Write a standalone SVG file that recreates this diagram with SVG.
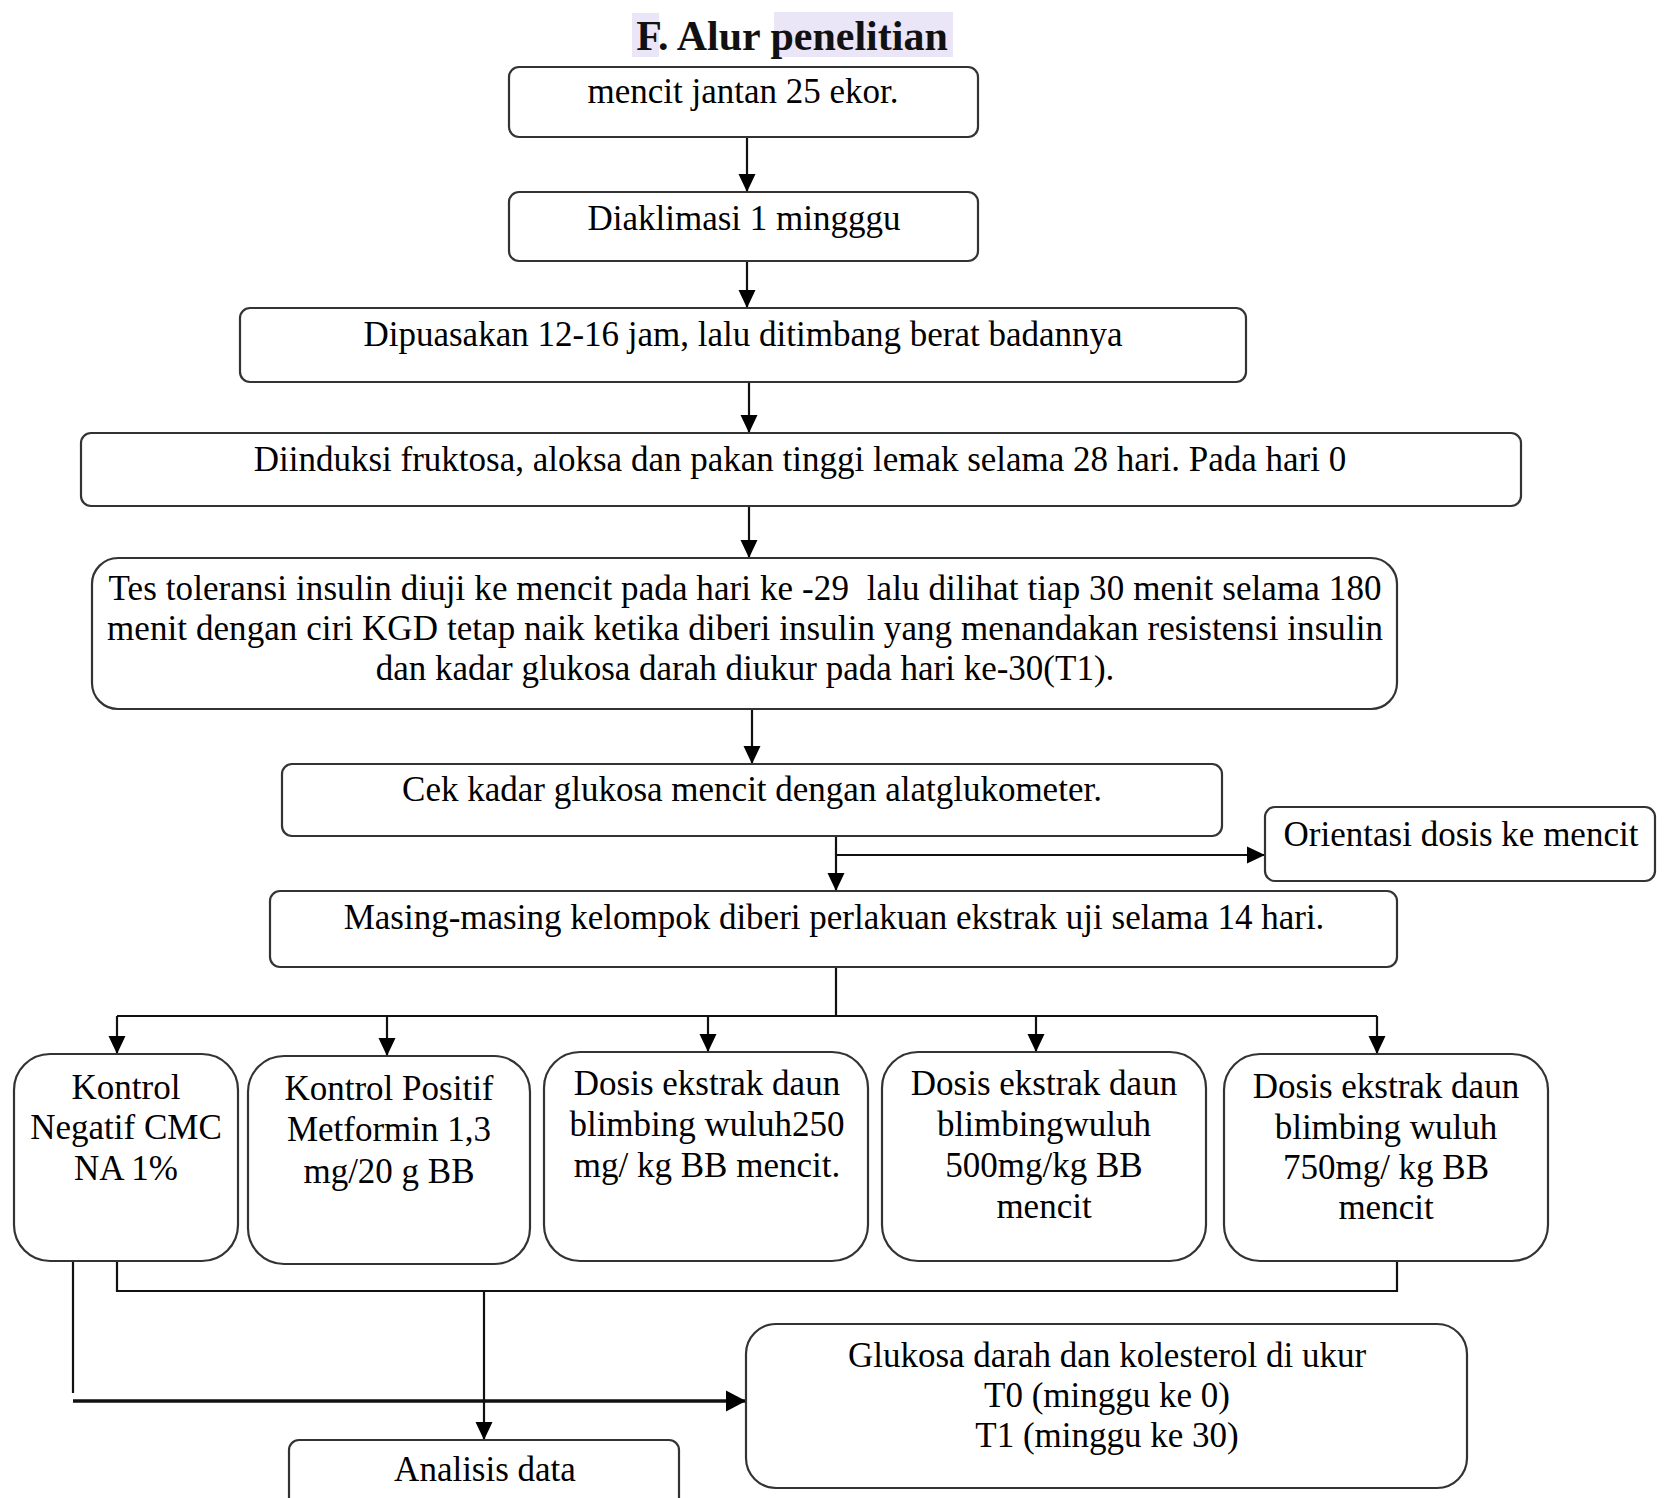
<svg xmlns="http://www.w3.org/2000/svg" width="1664" height="1498" viewBox="0 0 1664 1498">
<defs>
<marker id="ah" markerUnits="userSpaceOnUse" markerWidth="19" markerHeight="18" refX="18" refY="9" orient="auto">
<path d="M0,0.5 L18,9 L0,17.5 z" fill="#000"/>
</marker>
<marker id="ah2" markerUnits="userSpaceOnUse" markerWidth="21" markerHeight="22" refX="20" refY="11" orient="auto">
<path d="M0,0.5 L20,11 L0,21.5 z" fill="#000"/>
</marker>
<style>
.box{fill:#fff;stroke:#333;stroke-width:2.2}
.t{font-family:"Liberation Serif","Times New Roman",serif;font-size:35px;fill:#000;text-anchor:middle}
.con{fill:none;stroke:#111;stroke-width:2.2}
.arr{marker-end:url(#ah)}
</style>
</defs>
<rect width="1664" height="1498" fill="#fff"/>
<g id="title">
<rect x="632" y="13" width="27" height="44" fill="#ebe6f7"/>
<rect x="774" y="12" width="179" height="45" fill="#ebe6f7"/>
<text x="792" y="50" style="font-family:'Liberation Serif','Times New Roman',serif;font-size:42px;font-weight:bold;text-anchor:middle" fill="#111">F. Alur penelitian</text>
</g>
<g id="connectors">
<path class="con arr" d="M747,137 V192"/>
<path class="con arr" d="M747,261 V308"/>
<path class="con arr" d="M749,382 V433"/>
<path class="con arr" d="M749,506 V558"/>
<path class="con arr" d="M752,709 V764"/>
<path class="con arr" d="M836,836 V891"/>
<path class="con arr" d="M836,855 H1265"/>
<path class="con" d="M836,967 V1016 M117,1016 H1377"/>
<path class="con arr" d="M117,1016 V1054"/>
<path class="con arr" d="M387,1016 V1056"/>
<path class="con arr" d="M708,1016 V1052"/>
<path class="con arr" d="M1036,1016 V1052"/>
<path class="con arr" d="M1377,1016 V1054"/>
<path class="con" d="M73,1261 V1393"/>
<path class="con" style="stroke-width:3.4;marker-end:url(#ah2)" d="M73,1401 H746"/>
<path class="con" d="M117,1261 V1291 H1397 V1261"/>
<path class="con arr" d="M484,1291 V1440"/>
</g>
<g id="n1"><rect class="box" x="509" y="67" width="469" height="70" rx="10"/><text class="t" x="743" y="103">mencit jantan 25 ekor.</text></g>
<g id="n2"><rect class="box" x="509" y="192" width="469" height="69" rx="10"/><text class="t" x="744" y="230">Diaklimasi 1 mingggu</text></g>
<g id="n3"><rect class="box" x="240" y="308" width="1006" height="74" rx="10"/><text class="t" x="743" y="346">Dipuasakan 12-16 jam, lalu ditimbang berat badannya</text></g>
<g id="n4"><rect class="box" x="81" y="433" width="1440" height="73" rx="10"/><text class="t" x="800" y="471">Diinduksi fruktosa, aloksa dan pakan tinggi lemak selama 28 hari. Pada hari 0</text></g>
<g id="n5"><rect class="box" x="92" y="558" width="1305" height="151" rx="26"/>
<text class="t" x="745" y="600" textLength="1273" lengthAdjust="spacing" style="white-space:pre">Tes toleransi insulin diuji ke mencit pada hari ke -29  lalu dilihat tiap 30 menit selama 180</text>
<text class="t" x="745" y="640" textLength="1276" lengthAdjust="spacing">menit dengan ciri KGD tetap naik ketika diberi insulin yang menandakan resistensi insulin</text>
<text class="t" x="745" y="680">dan kadar glukosa darah diukur pada hari ke-30(T1).</text></g>
<g id="n6"><rect class="box" x="282" y="764" width="940" height="72" rx="10"/><text class="t" x="752" y="801">Cek kadar glukosa mencit dengan alatglukometer.</text></g>
<g id="n7"><rect class="box" x="1265" y="807" width="390" height="74" rx="10"/><text class="t" x="1461" y="846">Orientasi dosis ke mencit</text></g>
<g id="n8"><rect class="box" x="270" y="891" width="1127" height="76" rx="10"/><text class="t" x="834" y="929">Masing-masing kelompok diberi perlakuan ekstrak uji selama 14 hari.</text></g>
<g id="n9"><rect class="box" x="14" y="1054" width="224" height="207" rx="36"/>
<text class="t" x="126" y="1099">Kontrol</text><text class="t" x="126" y="1139">Negatif CMC</text><text class="t" x="126" y="1180">NA 1%</text></g>
<g id="n10"><rect class="box" x="248" y="1056" width="282" height="208" rx="36"/>
<text class="t" x="389" y="1100">Kontrol Positif</text><text class="t" x="389" y="1141">Metformin 1,3</text><text class="t" x="389" y="1183">mg/20 g BB</text></g>
<g id="n11"><rect class="box" x="544" y="1052" width="324" height="209" rx="36"/>
<text class="t" x="707" y="1095">Dosis ekstrak daun</text><text class="t" x="707" y="1136">blimbing wuluh250</text><text class="t" x="707" y="1177">mg/ kg BB mencit.</text></g>
<g id="n12"><rect class="box" x="882" y="1052" width="324" height="209" rx="36"/>
<text class="t" x="1044" y="1095">Dosis ekstrak daun</text><text class="t" x="1044" y="1136">blimbingwuluh</text><text class="t" x="1044" y="1177">500mg/kg BB</text><text class="t" x="1044" y="1218">mencit</text></g>
<g id="n13"><rect class="box" x="1224" y="1054" width="324" height="207" rx="36"/>
<text class="t" x="1386" y="1098">Dosis ekstrak daun</text><text class="t" x="1386" y="1139">blimbing wuluh</text><text class="t" x="1386" y="1179">750mg/ kg BB</text><text class="t" x="1386" y="1219">mencit</text></g>
<g id="n14"><rect class="box" x="746" y="1324" width="721" height="164" rx="30"/>
<text class="t" x="1107" y="1367">Glukosa darah dan kolesterol di ukur</text><text class="t" x="1107" y="1407">T0 (minggu ke 0)</text><text class="t" x="1107" y="1447">T1 (minggu ke 30)</text></g>
<g id="n15"><rect class="box" x="289" y="1440" width="390" height="70" rx="10"/><text class="t" x="485" y="1481">Analisis data</text></g>
</svg>
